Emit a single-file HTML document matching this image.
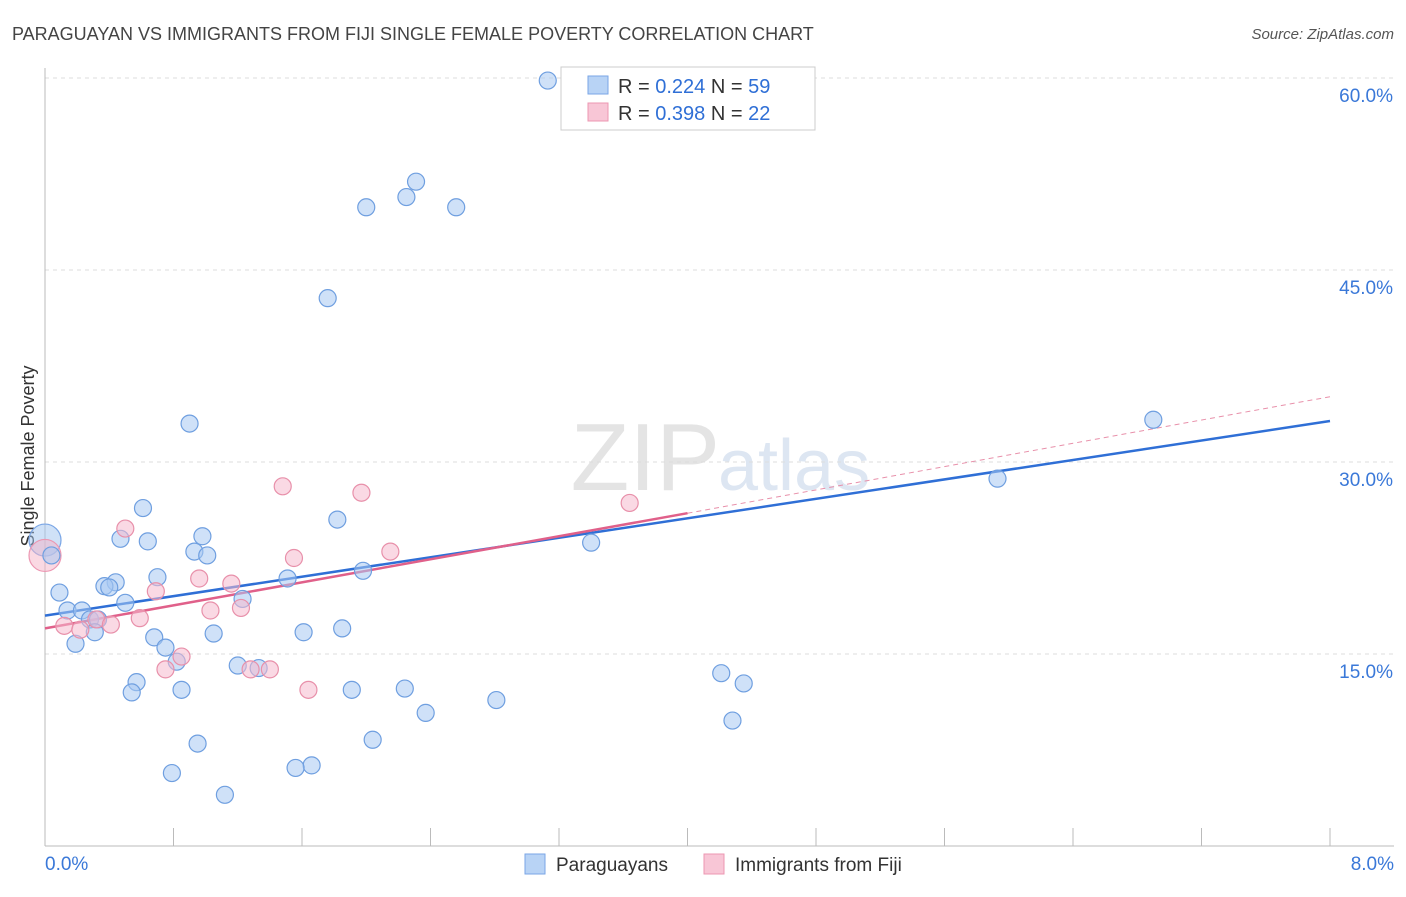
<!DOCTYPE html>
<html><head><meta charset="utf-8"><style>
body{margin:0;background:#fff;font-family:"Liberation Sans",sans-serif;}
svg text{font-family:"Liberation Sans",sans-serif;}
</style></head><body>
<svg id="chart" width="1406" height="892" xmlns="http://www.w3.org/2000/svg">
<text x="12" y="40" font-size="18" fill="#444">PARAGUAYAN VS IMMIGRANTS FROM FIJI SINGLE FEMALE POVERTY CORRELATION CHART</text>
<text x="1394" y="39" font-size="15" fill="#555" text-anchor="end" font-style="italic">Source: ZipAtlas.com</text>
<text x="720" y="490" font-size="96" fill="#e4e4e4" text-anchor="end" font-family="Liberation Serif">ZIP</text>
<text x="718" y="490" font-size="72" fill="#dde6f2">atlas</text>
<text transform="translate(34,456) rotate(-90)" font-size="18" fill="#333" text-anchor="middle">Single Female Poverty</text>
<g id="grid"></g><g id="axes"></g><g id="trends"></g><g id="points"></g>
<g>
<rect x="561" y="67" width="254" height="63" fill="#fff" stroke="#ccc"/>
<rect x="588" y="76" width="20" height="18" fill="#b8d3f5" stroke="#7aa6e6"/>
<text x="618" y="93" font-size="20" fill="#333">R = <tspan fill="#2f6fd6">0.224</tspan>   N = <tspan fill="#2f6fd6">59</tspan></text>
<rect x="588" y="103" width="20" height="18" fill="#f8c6d6" stroke="#ec97b2"/>
<text x="618" y="120" font-size="20" fill="#333">R = <tspan fill="#2f6fd6">0.398</tspan>   N = <tspan fill="#2f6fd6">22</tspan></text>
</g>
<g>
<rect x="525" y="854" width="20" height="20" fill="#b8d3f5" stroke="#7aa6e6"/>
<text x="556" y="871" font-size="19" fill="#333">Paraguayans</text>
<rect x="704" y="854" width="20" height="20" fill="#f8c6d6" stroke="#ec97b2"/>
<text x="735" y="871" font-size="19" fill="#333">Immigrants from Fiji</text>
</g>
</svg>
<script>
const yTicks=[15,30,45,60];
const yTickLabels=["15.0%","30.0%","45.0%","60.0%"];
const xTicks=[0,0.8,1.6,2.4,3.2,4.0,4.8,5.6,6.4,7.2,8.0];
const xEndLabels=["0.0%","8.0%"];
const blueX=[3.13,2.31,2.25,2.00,2.56,1.76,0.90,6.90,5.93,0.61,1.82,0.98,0.47,0.64,3.40,0.93,1.01,0.04,1.98,0.70,1.51,0.44,0.37,0.40,0.09,1.23,0.50,0.14,0.23,0.28,0.33,0.31,0.68,1.05,1.61,1.85,0.19,0.75,0.82,1.20,1.33,4.21,0.57,4.35,0.54,0.85,1.91,2.24,2.81,2.37,4.28,2.04,0.95,1.66,1.56,0.79,1.12];
const blueY=[59.8,51.9,50.7,49.9,49.9,42.8,33.0,33.3,28.7,26.4,25.5,24.2,24.0,23.8,23.7,23.0,22.7,22.7,21.5,21.0,20.9,20.6,20.3,20.2,19.8,19.3,19.0,18.4,18.4,17.7,17.7,16.7,16.3,16.6,16.7,17.0,15.8,15.5,14.4,14.1,13.9,13.5,12.8,12.7,12.0,12.2,12.2,12.3,11.4,10.4,9.8,8.3,8.0,6.3,6.1,5.7,4.0];
const blueBigX=[0.0];const blueBigY=[23.9];
const pinkX=[0.50,1.48,1.97,3.64,1.55,2.15,0.96,1.16,0.69,1.22,1.03,0.32,0.59,0.41,0.12,0.85,0.75,1.40,1.28,1.64,0.22];
const pinkY=[24.8,28.1,27.6,26.8,22.5,23.0,20.9,20.5,19.9,18.6,18.4,17.7,17.8,17.3,17.2,14.8,13.8,13.8,13.8,12.2,16.9];
const pinkBigX=[0.0];const pinkBigY=[22.7];
const blueTrend=[[0,18.0],[8,33.2]];
const pinkTrend=[[0,17.0],[4.0,26.0]];
const pinkTrendExt=[[4.0,26.0],[8,35.1]];
const NS="http://www.w3.org/2000/svg";
const sx=v=>45+v*160.625;
const sy=v=>846-v/0.078125;
function mk(tag,attrs,parent){const e=document.createElementNS(NS,tag);for(const k in attrs)e.setAttribute(k,attrs[k]);document.getElementById(parent).appendChild(e);return e;}
yTicks.forEach((t,i)=>{
 const l=mk('line',{x1:45,x2:1394,y1:sy(t),y2:sy(t),stroke:'#ddd','stroke-dasharray':'4,4'},'grid');
 
 
 const tx=mk('text',{x:1393,y:sy(t)+24,'font-size':19,fill:'#3a78d8','text-anchor':'end'},'grid');tx.textContent=yTickLabels[i];
 
 
});
const ax=mk('line',{x1:45,x2:45,y1:68,y2:846,stroke:'#bbb'},'axes');


const xa=mk('line',{x1:45,x2:1394,y1:846,y2:846,stroke:'#bbb'},'axes');


xTicks.forEach(t=>{const l=mk('line',{x1:sx(t),x2:sx(t),y1:828,y2:846,stroke:'#bbb'},'axes');
 
 });
[[0,'start',45],[8,'end',1394]].forEach((d,i)=>{const tx=mk('text',{x:d[2],y:870,'font-size':19,fill:'#3a78d8','text-anchor':d[1]},'axes');tx.textContent=xEndLabels[i];
 
 });
function line(tr,color,w,dash,name){const l=mk('line',{x1:sx(tr[0][0]),y1:sy(tr[0][1]),x2:sx(tr[1][0]),y2:sy(tr[1][1]),stroke:color,'stroke-width':w},'trends');if(dash)l.setAttribute('stroke-dasharray',dash);
 
 }
line(pinkTrendExt,'#e890aa',1,'5,4','fiji-trend-extension');
line(blueTrend,'#2f6fd6',2.5,null,'paraguayan-trend-line');
line(pinkTrend,'#e0608a',2.5,null,'fiji-trend-line');
function pts(X,Y,r,fill,stroke,name){X.forEach((x,i)=>{const c=mk('circle',{cx:sx(x),cy:sy(Y[i]),r:r,fill:fill,stroke:stroke,'stroke-width':1.2},'points');
 
 });}
pts(blueBigX,blueBigY,16,'rgba(160,195,240,0.5)','#7aa6e6','paraguayan-point');
pts(pinkBigX,pinkBigY,16,'rgba(245,180,200,0.5)','#ec97b2','fiji-point');
pts(blueX,blueY,8.5,'rgba(168,200,242,0.55)','#6f9fe0','paraguayan-point');
pts(pinkX,pinkY,8.5,'rgba(246,186,206,0.55)','#e890aa','fiji-point');
</script>
</body></html>
